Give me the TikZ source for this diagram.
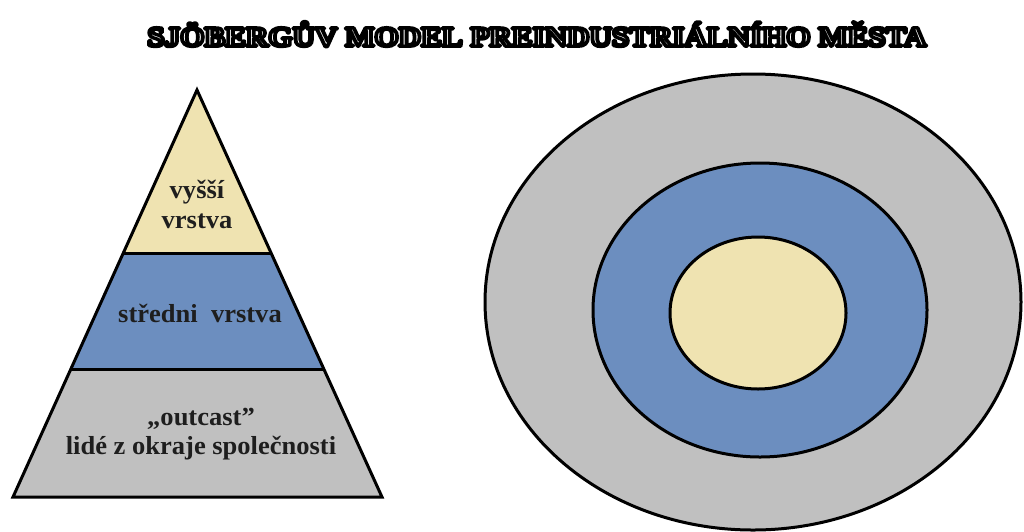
\documentclass[tikz,border=0pt]{standalone}
\usepackage{fontspec}
\usepackage{graphicx}
\setmainfont{Liberation Serif}
\definecolor{cgray}{HTML}{C0C0C0}
\definecolor{cblue}{HTML}{6C8EBF}
\definecolor{cyellow}{HTML}{EFE3B1}
\definecolor{ctext}{HTML}{1E1E1E}
\tikzset{
  layertext/.style={font=\bfseries\fontsize{26}{29}\selectfont, text=ctext, align=center, inner sep=0pt, anchor=base},
  titletext/.style={font=\bfseries\fontsize{28}{32}\selectfont, inner sep=0pt},
  outl/.style={draw=black, line width=3pt, line join=miter},
}
\newcommand{\wide}[1]{\scalebox{1.02}[1]{#1}}
\newcommand{\outlinedtext}[1]{\scalebox{1.11}[1]{\textcolor{white}{\special{pdf:code q 0 0 0 RG 2 Tr 3.4 w 1 j}#1\special{pdf:code Q}}}}
\begin{document}
\begin{tikzpicture}[x=1pt,y=-1pt]
\useasboundingbox[fill=white] (0,0) rectangle (1024,531);
% title
\node[titletext] (title) at (537,34) {\outlinedtext{SJÖBERGŮV MODEL PREINDUSTRIÁLNÍHO MĚSTA}};
% pyramid
\coordinate (apex) at (197,90);
\coordinate (l1) at (123,253);
\coordinate (r1) at (271,253);
\coordinate (l2) at (70,369);
\coordinate (r2) at (324,369);
\coordinate (bl) at (13,497);
\coordinate (br) at (382,497);
\fill[cyellow] (apex) -- (r1) -- (l1) -- cycle;
\fill[cblue] (l1) -- (r1) -- (r2) -- (l2) -- cycle;
\fill[cgray] (l2) -- (r2) -- (br) -- (bl) -- cycle;
\draw[outl] (l1) -- (r1);
\draw[outl] (l2) -- (r2);
\draw[outl] (apex) -- (br) -- (bl) -- cycle;
\node[layertext] (top1) at (197,198) {\wide{vyšší}};
\node[layertext] (top2) at (197,228) {\wide{vrstva}};
\node[layertext] (mid) at (200,322) {\wide{středni\ \ vrstva}};
\node[layertext] (low1) at (201,425) {\wide{„outcast"}};
\node[layertext] (low2) at (201,454) {\wide{lidé z okraje společnosti}};
% concentric city model
\draw[outl, fill=cgray] (753,302) ellipse [x radius=268, y radius=228];
\draw[outl, fill=cblue] (760,310) ellipse [x radius=167, y radius=147];
\draw[outl, fill=cyellow] (758,313) ellipse [x radius=88, y radius=76];
\end{tikzpicture}
\end{document}
